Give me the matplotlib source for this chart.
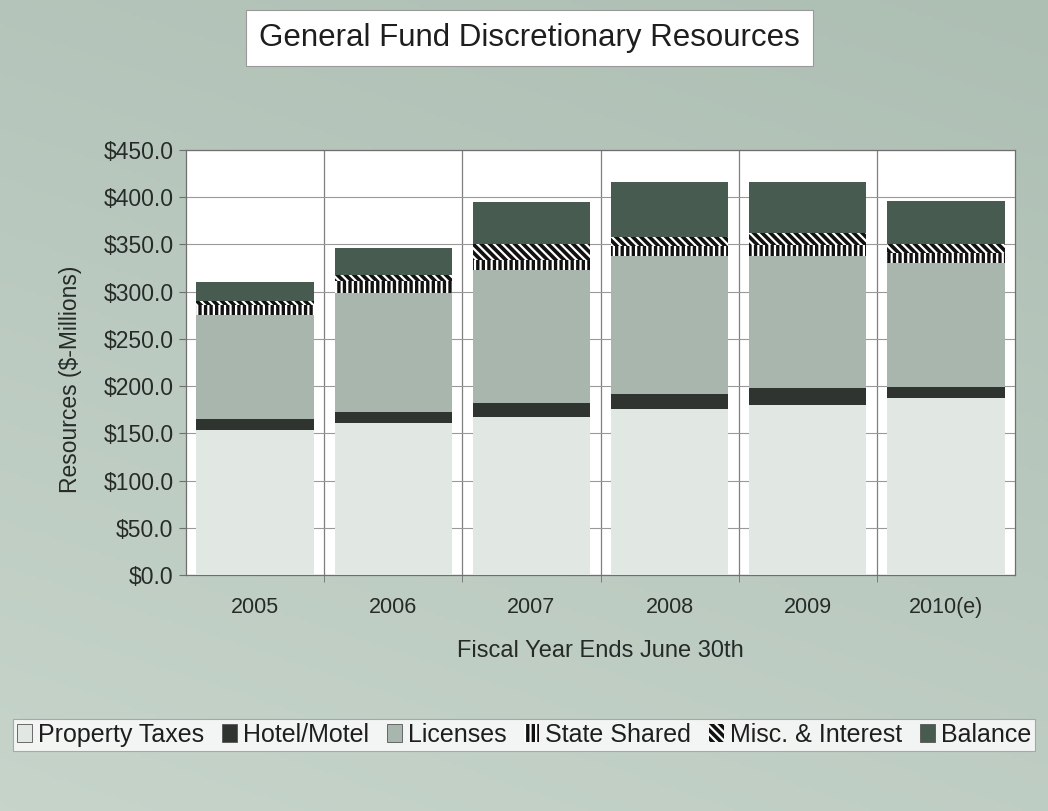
import numpy as np
import matplotlib
matplotlib.use("Agg")
import matplotlib.pyplot as plt
from matplotlib.colors import LinearSegmentedColormap
from matplotlib.ticker import FuncFormatter

plt.rcParams['font.family'] = ['Liberation Sans', 'DejaVu Sans']
plt.rcParams['hatch.linewidth'] = 1.6

# data ($ millions)
years = ['2005', '2006', '2007', '2008', '2009', '2010(e)']
property_taxes = [153.5, 160.5, 167.6, 175.5, 179.5, 187.0]
hotel_motel = [11.3, 12.4, 14.5, 16.5, 18.5, 12.5]
licenses = [111.0, 126.0, 141.0, 146.0, 140.0, 130.5]
state_shared = [9.9, 12.0, 10.5, 10.5, 11.5, 10.5]
misc_interest = [4.6, 7.0, 17.0, 9.0, 12.5, 10.5]
balance = [20.1, 28.5, 44.0, 59.0, 54.5, 45.0]

series = [
    ('Property Taxes', property_taxes, '#e1e7e3', None),
    ('Hotel/Motel', hotel_motel, '#2f3431', None),
    ('Licenses', licenses, '#a8b6ae', None),
    ('State Shared', state_shared, '#111111', '|||'),
    ('Misc. & Interest', misc_interest, '#111111', '\\\\\\\\'),
    ('Balance', balance, '#475b51', None),
]

fig = plt.figure(figsize=(10.48, 8.11), dpi=100)

# scanned greenish page background
bg = fig.add_axes([0, 0, 1, 1], zorder=-10)
cmap = LinearSegmentedColormap.from_list('page', ['#adbeb3', '#bac9bf', '#c6d4ca'])
yy, xx = np.mgrid[0:1:200j, 0:1:200j]
bg.imshow(0.7 * yy + 0.3 * (1 - xx), cmap=cmap, aspect='auto', extent=[0, 1, 0, 1])
bg.set_axis_off()

ax = fig.add_axes([0.1775, 0.291, 0.791, 0.524])
ax.set_facecolor('white')

x = np.arange(len(years))
bottom = np.zeros(len(years))
for name, vals, color, hatch in series:
    if hatch:
        ax.bar(x, vals, 0.85, bottom=bottom, color=color, edgecolor='white',
               hatch=hatch, linewidth=0, label=name, zorder=3)
    else:
        ax.bar(x, vals, 0.85, bottom=bottom, color=color, linewidth=0,
               label=name, zorder=3)
    bottom += np.array(vals)

ax.set_xlim(-0.5, len(years) - 0.5)
ax.set_ylim(0, 450)
ax.set_yticks(np.arange(0, 451, 50))
ax.yaxis.set_major_formatter(FuncFormatter(lambda v, p: '${:.1f}'.format(v)))
ax.set_xticks(x)
ax.set_xticklabels(years)
ax.set_xticks(np.arange(0.5, len(years) - 0.5, 1), minor=True)

ax.grid(axis='y', color='#999999', linewidth=0.8, zorder=0)
ax.grid(axis='x', which='minor', color='#7f7f7f', linewidth=0.9, zorder=0)
ax.set_axisbelow(True)
for s in ax.spines.values():
    s.set_color('#6f6f6f')
    s.set_linewidth(0.9)

ax.tick_params(axis='y', labelsize=16.5, colors='#6f6f6f', labelcolor='#262b28',
               length=5, direction='out', pad=4)
ax.tick_params(axis='x', which='major', labelsize=15.5, labelcolor='#262b28',
               length=0, pad=16)
ax.tick_params(axis='x', which='minor', length=5, colors='#6f6f6f')

ax.set_xlabel('Fiscal Year Ends June 30th', fontsize=17, color='#262b28', labelpad=16)
ax.set_ylabel('Resources ($-Millions)', fontsize=16.5, color='#262b28')
ax.yaxis.set_label_coords(-0.125, 0.46)

fig.text(0.505, 0.953, 'General Fund Discretionary Resources', fontsize=22.5,
         color='#1e1e1e', ha='center', va='center',
         bbox=dict(boxstyle='square,pad=0.42', facecolor='white',
                   edgecolor='#9a9a9a', linewidth=0.8))

leg = fig.legend(loc='center', bbox_to_anchor=(0.5, 0.094), ncol=6,
                 fontsize=18, frameon=True, fancybox=False,
                 handlelength=0.6, handleheight=0.7, handletextpad=0.25,
                 columnspacing=0.7, borderpad=0.15, borderaxespad=0)
leg.get_frame().set_edgecolor('#9a9a9a')
leg.get_frame().set_linewidth(0.8)
for t in leg.get_texts():
    t.set_color('#1e1e1e')
for h, (_, _, _, hatch) in zip(leg.legend_handles, series):
    if not hatch:
        h.set_edgecolor('#555555')
        h.set_linewidth(0.6)

fig.savefig('out.png', dpi=100)
